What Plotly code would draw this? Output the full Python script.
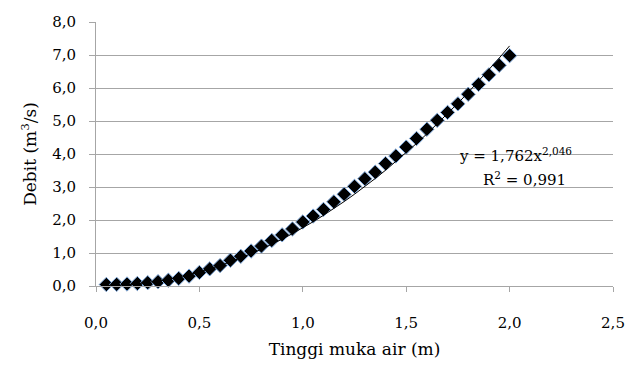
import numpy as np
import plotly.graph_objects as go

# Water level (m) and discharge (m3/s)
tinggi = [0.05, 0.10, 0.15, 0.20, 0.25, 0.30, 0.35, 0.40, 0.45, 0.50,
          0.55, 0.60, 0.65, 0.70, 0.75, 0.80, 0.85, 0.90, 0.95, 1.00,
          1.05, 1.10, 1.15, 1.20, 1.25, 1.30, 1.35, 1.40, 1.45, 1.50,
          1.55, 1.60, 1.65, 1.70, 1.75, 1.80, 1.85, 1.90, 1.95, 2.00]
debit = [0.045, 0.05, 0.06, 0.075, 0.10, 0.13, 0.175, 0.23, 0.30, 0.41,
         0.52, 0.62, 0.78, 0.90, 1.06, 1.21, 1.38, 1.55, 1.73, 1.94,
         2.12, 2.32, 2.55, 2.78, 3.02, 3.25, 3.45, 3.71, 3.94, 4.21,
         4.47, 4.75, 5.02, 5.26, 5.52, 5.81, 6.11, 6.40, 6.69, 6.98]

# Power trendline coefficients shown on the chart
coef_a = 1.762
coef_b = 2.046
r2_text = "0,991"

x_ticks = [0.0, 0.5, 1.0, 1.5, 2.0, 2.5]
y_ticks = [0, 1, 2, 3, 4, 5, 6, 7, 8]

xt = np.array(tinggi)
trend = coef_a * xt ** coef_b

FONT = "DejaVu Serif"
GRID = "#a6a6a6"

fig = go.Figure()
fig.add_trace(go.Scatter(
    x=tinggi, y=debit, mode="markers",
    marker=dict(symbol="diamond", size=11, color="black",
                line=dict(color="#7fa9dc", width=1)),
    showlegend=False, cliponaxis=False,
))
fig.add_trace(go.Scatter(
    x=tinggi, y=trend, mode="lines",
    line=dict(color="black", width=1),
    showlegend=False, cliponaxis=False,
))

fig.add_annotation(
    x=2.03, y=3.98, xref="x", yref="y",
    text="y = 1,762x<sup>2,046</sup>", showarrow=False,
    font=dict(family=FONT, size=15, color="black"),
    xanchor="center", yanchor="middle",
)
fig.add_annotation(
    x=2.07, y=3.23, xref="x", yref="y",
    text="R<sup>2</sup> = " + r2_text, showarrow=False,
    font=dict(family=FONT, size=15, color="black"),
    xanchor="center", yanchor="middle",
)

fig.update_layout(
    width=629, height=372, autosize=False,
    margin=dict(l=96, r=16, t=22, b=86, autoexpand=False),
    paper_bgcolor="white", plot_bgcolor="white",
    separators=", ",
    font=dict(family=FONT, size=15, color="black"),
    xaxis=dict(
        range=[0, 2.5], tickvals=x_ticks, tickformat=".1f",
        showgrid=False, showline=True, linecolor=GRID, linewidth=1,
        ticks="outside", ticklen=5, tickcolor=GRID, zeroline=False,
        ticklabelstandoff=18, automargin=False,
        title=dict(text="Tinggi muka air (m)", font=dict(size=17), standoff=12),
    ),
    yaxis=dict(
        range=[0, 8], tickvals=y_ticks, tickformat=".1f",
        showgrid=True, gridcolor=GRID, gridwidth=1,
        showline=True, linecolor=GRID, linewidth=1,
        ticks="outside", ticklen=6, tickcolor=GRID, zeroline=False,
        ticklabelstandoff=10, automargin=False,
        title=dict(text="Debit (m<sup>3</sup>/s)", font=dict(size=17), standoff=11),
    ),
)

fig.write_html("out.html", config={"displayModeBar": False, "responsive": False},
               post_script="document.body.style.margin='0';")
